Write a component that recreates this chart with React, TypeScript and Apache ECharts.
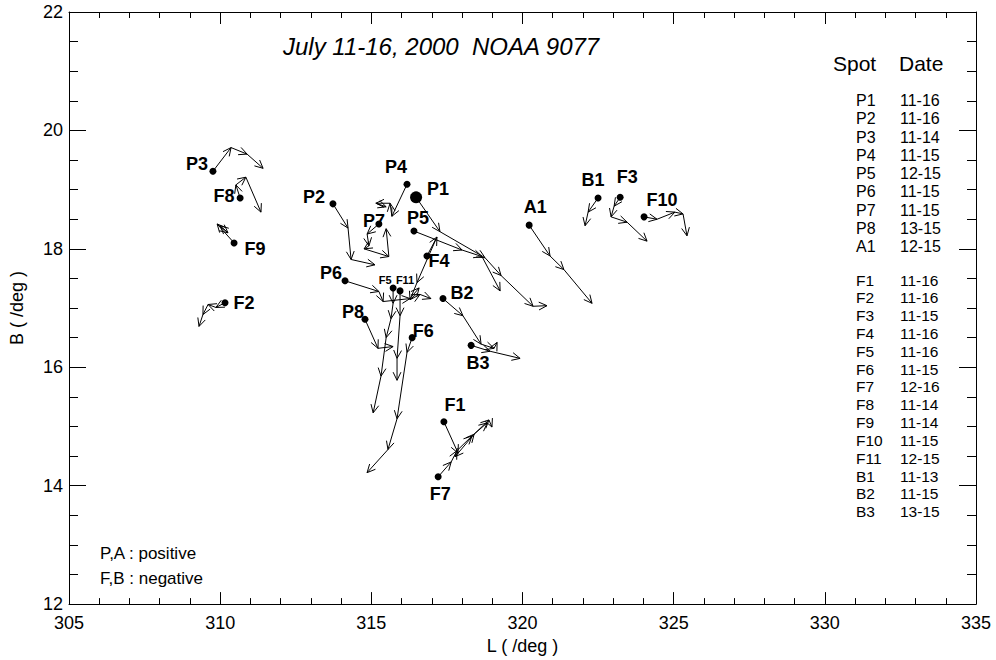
import { useEffect, useRef } from "react";
import * as echarts from "echarts";

// ---- Spot tracks: [L (deg), B (deg)] per day, first point = start dot ----
const P1 = [[316.48, 18.87], [317.27, 18.29], [318.76, 17.85], [319.29, 17.55], [320.35, 17.03], [320.81, 17.04]];
const P2 = [[313.73, 18.76], [314.23, 18.35], [314.33, 17.82], [315.12, 17.73]];
const P3 = [[309.76, 19.31], [310.36, 19.71], [310.89, 19.6], [311.42, 19.36]];
const P4 = [[316.18, 19.09], [315.68, 18.55], [315.62, 18.77], [315.15, 18.77], [315.49, 18.71]];
const P5 = [[316.41, 18.3], [318.0, 17.98], [318.66, 17.87], [319.26, 17.29]];
const P6 = [[314.13, 17.46], [315.25, 17.28], [315.39, 17.11], [316.28, 17.16], [316.58, 17.34]];
const P7 = [[315.25, 18.42], [314.86, 18.25], [314.92, 18.05], [314.76, 18.0], [315.58, 17.87], [315.49, 18.34]];
const P8 = [[314.79, 16.81], [315.22, 16.32], [315.72, 16.35]];
const A1 = [[320.22, 18.4], [320.91, 17.88], [321.37, 17.65], [322.3, 17.08]];
const F1 = [[317.4, 15.08], [317.87, 14.55], [317.77, 14.49], [318.4, 14.87], [318.89, 15.11], [318.99, 14.99]];
const F2 = [[310.16, 17.09], [309.86, 17.01], [309.6, 17.06], [309.43, 16.89], [309.3, 16.69]];
const F3 = [[323.23, 18.87], [323.03, 18.72], [322.93, 18.54], [323.46, 18.45], [324.12, 18.13]];
const F4 = [[316.84, 17.88], [317.17, 18.2], [316.51, 17.43], [316.28, 17.14], [316.61, 17.23], [316.97, 17.16]];
const F5 = [[315.72, 17.34], [315.72, 17.08], [315.65, 16.82], [315.49, 16.5], [315.32, 15.85], [315.06, 15.23]];
const F6 = [[316.35, 16.5], [316.18, 16.25], [315.85, 15.13], [315.55, 14.61], [314.86, 14.22]];
const F7 = [[317.21, 14.15], [317.64, 14.4], [317.83, 14.59], [318.33, 14.84], [318.83, 15.06]];
const F8 = [[310.66, 18.86], [310.52, 19.08], [310.85, 19.21], [311.35, 18.62]];
const F9 = [[310.46, 18.1], [309.9, 18.42], [310.26, 18.27], [310.0, 18.39]];
const F10 = [[324.02, 18.54], [324.45, 18.5], [325.04, 18.62], [325.31, 18.59], [325.44, 18.22]];
const F11 = [[315.95, 17.29], [315.95, 16.87], [315.85, 16.15], [315.85, 15.78]];
const B1 = [[322.5, 18.86], [322.17, 18.62], [322.07, 18.39]];
const B2 = [[317.37, 17.16], [318.03, 16.87], [318.63, 16.39], [319.06, 16.32], [319.16, 16.42]];
const B3 = [[318.3, 16.37], [318.93, 16.27], [319.92, 16.15]];

const spotNames = ["P1", "P2", "P3", "P4", "P5", "P6", "P7", "P8", "A1", "F1", "F2", "F3", "F4", "F5", "F6", "F7", "F8", "F9", "F10", "F11", "B1", "B2", "B3"];
const spotTracks = [P1, P2, P3, P4, P5, P6, P7, P8, A1, F1, F2, F3, F4, F5, F6, F7, F8, F9, F10, F11, B1, B2, B3];

// ---- Legend table ----
const posSpots = ["P1", "P2", "P3", "P4", "P5", "P6", "P7", "P8", "A1"];
const posDates = ["11-16", "11-16", "11-14", "11-15", "12-15", "11-15", "11-15", "13-15", "12-15"];
const negSpots = ["F1", "F2", "F3", "F4", "F5", "F6", "F7", "F8", "F9", "F10", "F11", "B1", "B2", "B3"];
const negDates = ["11-16", "11-16", "11-15", "11-16", "11-16", "11-15", "12-16", "11-14", "11-14", "11-15", "12-15", "11-13", "11-15", "13-15"];

const titleText = "July 11-16, 2000  NOAA 9077";
const noteLines = ["P,A : positive", "F,B : negative"];

// ---- label placement (pixel offsets from start dot) ----
const labelOffset: Record<string, [number, number]> = {
  P1: [22, -8], P2: [-19, -7], P3: [-16, -7], P4: [-11, -17], P5: [4, -13], P6: [-14, -8],
  P7: [-5, -3], P8: [-12, -7], A1: [6, -18], F1: [11, -17], F2: [19, 0], F3: [7, -20],
  F4: [12, 5], F5: [-8, -8], F6: [11, -7], F7: [2, 17], F8: [-16, -2], F9: [21, 6],
  F10: [18, -17], F11: [5, -11], B1: [-5, -18], B2: [19, -6], B3: [7, 18],
};
const smallLabels = ["F5", "F11"];

const FONT = '"Liberation Sans", Arial, Helvetica, sans-serif';

export default function App() {
  const ref = useRef<HTMLDivElement>(null);
  useEffect(() => {
    if (!ref.current) return;
    const chart = echarts.init(ref.current, null, { renderer: "svg" });

    const axisCommon = {
      axisLine: { show: true, onZero: false, lineStyle: { color: "#000", width: 1 } },
      splitLine: { show: false },
    };

    const rowText = (x: number, y: number, t: string, size: number) => ({
      type: "text",
      x,
      y,
      style: { text: t, font: `${size}px ${FONT}`, fill: "#000", verticalAlign: "middle" },
    });

    const graphics: any[] = [];
    graphics.push({
      type: "text", left: 283, top: 34,
      style: { text: titleText, font: `italic 24px ${FONT}`, fill: "#000" },
    });
    graphics.push(rowText(833, 63, "Spot", 21));
    graphics.push(rowText(899, 63, "Date", 21));
    posSpots.forEach((s, i) => {
      const y = 100.7 + i * 18.25;
      graphics.push(rowText(856, y, s, 16));
      graphics.push(rowText(900, y, posDates[i], 16));
    });
    negSpots.forEach((s, i) => {
      const y = 280 + i * 17.82;
      graphics.push(rowText(856, y, s, 15.5));
      graphics.push(rowText(900, y, negDates[i], 15.5));
    });
    noteLines.forEach((t, i) => {
      graphics.push(rowText(100, 553 + i * 25, t, 17));
    });

    const option: any = {
      animation: false,
      backgroundColor: "#fff",
      grid: { left: 69, top: 12, right: 20, bottom: 53, containLabel: false },
      xAxis: [
        {
          type: "value", min: 305, max: 335, interval: 5, position: "bottom",
          ...axisCommon,
          axisTick: { show: true, inside: true, length: 12, lineStyle: { color: "#000" } },
          minorTick: { show: true, splitNumber: 5, length: 6, lineStyle: { color: "#000" } },
          axisLabel: { color: "#000", fontSize: 18, fontFamily: FONT, margin: 10 },
          name: "L ( /deg )", nameLocation: "middle", nameGap: 32,
          nameTextStyle: { color: "#000", fontSize: 18, fontFamily: FONT },
        },
        {
          type: "value", min: 305, max: 335, interval: 5, position: "top",
          ...axisCommon,
          axisTick: { show: true, inside: true, length: 12, lineStyle: { color: "#000" } },
          minorTick: { show: true, splitNumber: 5, length: 6, lineStyle: { color: "#000" } },
          axisLabel: { show: false },
        },
      ],
      yAxis: [
        {
          type: "value", min: 12, max: 22, interval: 2, position: "left",
          ...axisCommon,
          axisTick: { show: true, inside: true, length: 17, lineStyle: { color: "#000" } },
          minorTick: { show: true, splitNumber: 4, length: 9, lineStyle: { color: "#000" } },
          axisLabel: { color: "#000", fontSize: 18, fontFamily: FONT, margin: 6 },
          name: "B ( /deg )", nameLocation: "middle", nameGap: 43,
          nameTextStyle: { color: "#000", fontSize: 18, fontFamily: FONT },
        },
        {
          type: "value", min: 12, max: 22, interval: 2, position: "right",
          ...axisCommon,
          axisTick: { show: true, inside: true, length: 17, lineStyle: { color: "#000" } },
          minorTick: { show: true, splitNumber: 4, length: 9, lineStyle: { color: "#000" } },
          axisLabel: { show: false },
        },
      ],
      graphic: graphics,
      series: [
        {
          type: "custom",
          coordinateSystem: "cartesian2d",
          xAxisIndex: 0,
          yAxisIndex: 0,
          clip: false,
          encode: { x: 0, y: 1 },
          data: spotTracks.map((t, i) => [t[0][0], t[0][1], i]),
          renderItem: (_params: any, api: any) => {
            const idx = api.value(2) as number;
            const name = spotNames[idx];
            const pts = spotTracks[idx].map((p) => api.coord(p));
            const children: any[] = [];
            const h = 9;
            const a = 0.45;
            for (let i = 1; i < pts.length; i++) {
              const [x0, y0] = pts[i - 1];
              const [x1, y1] = pts[i];
              children.push({
                type: "line",
                shape: { x1: x0, y1: y0, x2: x1, y2: y1 },
                style: { stroke: "#000", lineWidth: 1 },
              });
              const ang = Math.atan2(y1 - y0, x1 - x0);
              children.push({
                type: "polyline",
                shape: {
                  points: [
                    [x1 - h * Math.cos(ang - a), y1 - h * Math.sin(ang - a)],
                    [x1, y1],
                    [x1 - h * Math.cos(ang + a), y1 - h * Math.sin(ang + a)],
                  ],
                },
                style: { stroke: "#000", fill: null, lineWidth: 1 },
              });
            }
            const [cx, cy] = pts[0];
            children.push({
              type: "circle",
              shape: { cx, cy, r: name === "P1" ? 6 : 3.5 },
              style: { fill: "#000" },
            });
            const off = labelOffset[name] || [10, -10];
            const small = smallLabels.indexOf(name) >= 0;
            children.push({
              type: "text",
              x: cx + off[0],
              y: cy + off[1],
              style: {
                text: name,
                font: `bold ${small ? 11 : 18}px ${FONT}`,
                fill: "#000",
                align: "center",
                verticalAlign: "middle",
              },
            });
            return { type: "group", children };
          },
        },
      ],
    };
    chart.setOption(option);
    return () => chart.dispose();
  }, []);
  return (
    <div
      ref={ref}
      style={{ position: "fixed", left: 0, top: 0, width: 996, height: 660, background: "#fff" }}
    />
  );
}
